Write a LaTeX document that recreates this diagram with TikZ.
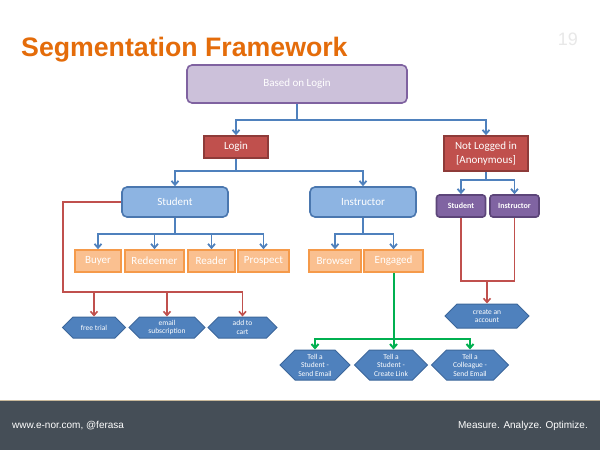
\documentclass[tikz,border=0pt]{standalone}
\usepackage{fontspec}
\setmainfont{Carlito}
\newfontfamily\arialf{Liberation Sans}
\usetikzlibrary{arrows.meta,shapes.symbols}
\definecolor{purpleL}{HTML}{CCC1DA}
\definecolor{purpleD}{HTML}{7F62A0}
\definecolor{redF}{HTML}{C0504D}
\definecolor{redD}{HTML}{8E3B39}
\definecolor{blueF}{HTML}{8DB4E2}
\definecolor{blueD}{HTML}{4A77AF}
\definecolor{purF}{HTML}{8064A2}
\definecolor{purD}{HTML}{5C4579}
\definecolor{orF}{HTML}{FAC090}
\definecolor{orD}{HTML}{F59A4A}
\definecolor{hexF}{HTML}{4F81BD}
\definecolor{hexD}{HTML}{3C679B}
\definecolor{lineB}{HTML}{4F81BD}
\definecolor{lineR}{HTML}{C0504D}
\definecolor{lineG}{HTML}{00B050}
\definecolor{titleC}{HTML}{E46C0A}
\definecolor{footC}{HTML}{454E57}
\definecolor{beigeC}{HTML}{C9B99B}
\definecolor{pageC}{HTML}{E8E8E8}
\tikzset{
  arr/.style={-{Straight Barb[length=4pt,width=7pt]}},
  box/.style={draw, line width=1.6pt, inner sep=0pt, align=center, text=white,
    font=\fontsize{11}{14}\selectfont},
  basebox/.style={box, fill=purpleL, draw=purpleD, rounded corners=5pt,
    minimum width=220pt, minimum height=38pt},
  redbox/.style={box, fill=redF, draw=redD, minimum height=22pt},
  bluebox/.style={box, fill=blueF, draw=blueD, rounded corners=5pt,
    minimum width=106pt, minimum height=30pt},
  purbox/.style={box, fill=purF, draw=purD, rounded corners=3pt,
    minimum width=49pt, minimum height=22pt, font=\bfseries\fontsize{8}{9}\selectfont},
  orbox/.style={box, fill=orF, draw=orD, minimum height=22pt},
  hexa/.style={shape=signal, signal to=east and west, signal pointer angle=90,
    draw=hexD, fill=hexF, line width=1pt, inner sep=0pt, text=white,
    align=center, font=\fontsize{7.5}{8.5}\selectfont},
  bl/.style={draw=lineB, line width=1.8pt},
  rd/.style={draw=lineR, line width=1.6pt},
  gr/.style={draw=lineG, line width=2pt},
}
\begin{document}
\begin{tikzpicture}[x=1pt,y=-1pt]
\useasboundingbox (0,0) rectangle (600,450);
\fill[white] (0,0) rectangle (600,450);
% title
\node[anchor=base west, inner sep=0pt, text=titleC,
  font=\arialf\bfseries\fontsize{26.7}{30}\selectfont] (title) at (21,56) {Segmentation Framework};
\node[anchor=base east, inner sep=0pt, text=pageC,
  font=\arialf\fontsize{18}{20}\selectfont] (pg) at (578,45) {19};
% top
\node[basebox] (base) at (297,84) {Based on Login};
\node[redbox, minimum width=64pt] (login) at (236,147) {Login};
\node[redbox, minimum width=84pt, minimum height=35pt] (anon) at (486,153.5) {Not Logged in\\{[Anonymous]}};
\draw[bl,arr] (base.south) -- ++(0,16) coordinate (j1) -| (login.north);
\draw[bl,arr] (j1) -| (anon.north);
% second level
\node[bluebox] (stud) at (175,202) {Student};
\node[bluebox] (inst) at (363,202) {Instructor};
\draw[bl,arr] (login.south) -- ++(0,12) coordinate (j2) -| (stud.north);
\draw[bl,arr] (j2) -| (inst.north);
\node[purbox] (ps) at (461,206) {Student};
\node[purbox] (pi) at (514.5,206) {Instructor};
\draw[bl] (anon.south) -- ++(0,8) coordinate (j5);
\draw[bl,arr] (j5) -| (ps.north);
\draw[bl,arr] (j5) -| (pi.north);
% orange
\node[orbox, minimum width=46pt] (buy) at (98,261) {Buyer};
\node[orbox, minimum width=59pt] (rdm) at (154.5,261) {Redeemer};
\node[orbox, minimum width=47pt] (rea) at (211.5,261) {Reader};
\node[orbox, minimum width=51pt] (pro) at (263.5,261) {Prospect};
\node[orbox, minimum width=52pt] (brw) at (335,261) {Browser};
\node[orbox, minimum width=59pt] (eng) at (393.5,261) {Engaged};
\draw[bl] (stud.south) -- ++(0,16) coordinate (j3);
\draw[bl,arr] (j3) -| (buy.north);
\draw[bl,arr] (j3) -| (rdm.north);
\draw[bl,arr] (j3) -| (rea.north);
\draw[bl,arr] (j3) -| (pro.north);
\draw[bl] (inst.south) -- ++(0,16) coordinate (j4);
\draw[bl,arr] (j4) -| (brw.north);
\draw[bl,arr] (j4) -| (eng.north);
% hexagons left
\node[hexa, minimum width=63pt, minimum height=21pt] (h1) at (94,327.5) {free trial};
\node[hexa, minimum width=76pt, minimum height=21pt] (h2) at (167,327.5) {email\\subscription};
\node[hexa, minimum width=69pt, minimum height=21pt] (h3) at (242.5,327.5) {add to\\cart};
\coordinate (rl) at (63,292);
\draw[rd,arr] (stud.west) -| (rl) -| (h3.north);
\draw[rd,arr] (h1.north |- rl) -- (h1.north);
\draw[rd,arr] (h2.north |- rl) -- (h2.north);
% create account
\node[hexa, minimum width=84pt, minimum height=24pt] (acct) at (487,316) {create an\\account};
\coordinate (rj) at (487,281);
\draw[rd] (ps.south) |- (rj);
\draw[rd] (pi.south) |- (rj);
\draw[rd,arr] (rj) -- (acct.north);
% tell hexagons
\node[hexa, minimum width=70pt, minimum height=30pt] (t1) at (315,365) {Tell a\\Student -\\Send Email};
\node[hexa, minimum width=73pt, minimum height=30pt] (t2) at (391,365) {Tell a\\Student -\\Create Link};
\node[hexa, minimum width=77pt, minimum height=30pt] (t3) at (470,365) {Tell a\\Colleague -\\Send Email};
\path (eng.south) ++(0,66) coordinate (gj);
\draw[gr,arr] (eng.south) -- (gj) -| (t1.north);
\draw[gr,arr] (gj) -| (t3.north);
\draw[gr,arr] (gj) -- (gj |- t2.north);
% footer
\fill[footC] (0,401) rectangle (600,450);
\draw[beigeC, line width=1pt] (0,400.5) -- (600,400.5);
\node[anchor=base west, inner sep=0pt, text=white, font=\arialf\fontsize{10}{12}\selectfont] (ft1) at (12,428) {www.e-nor.com, @ferasa};
\node[anchor=base east, inner sep=0pt, text=white, font=\arialf\fontsize{10}{12}\selectfont] (ft2) at (588,428) {Measure. Analyze. Optimize.};
\end{tikzpicture}
\end{document}
